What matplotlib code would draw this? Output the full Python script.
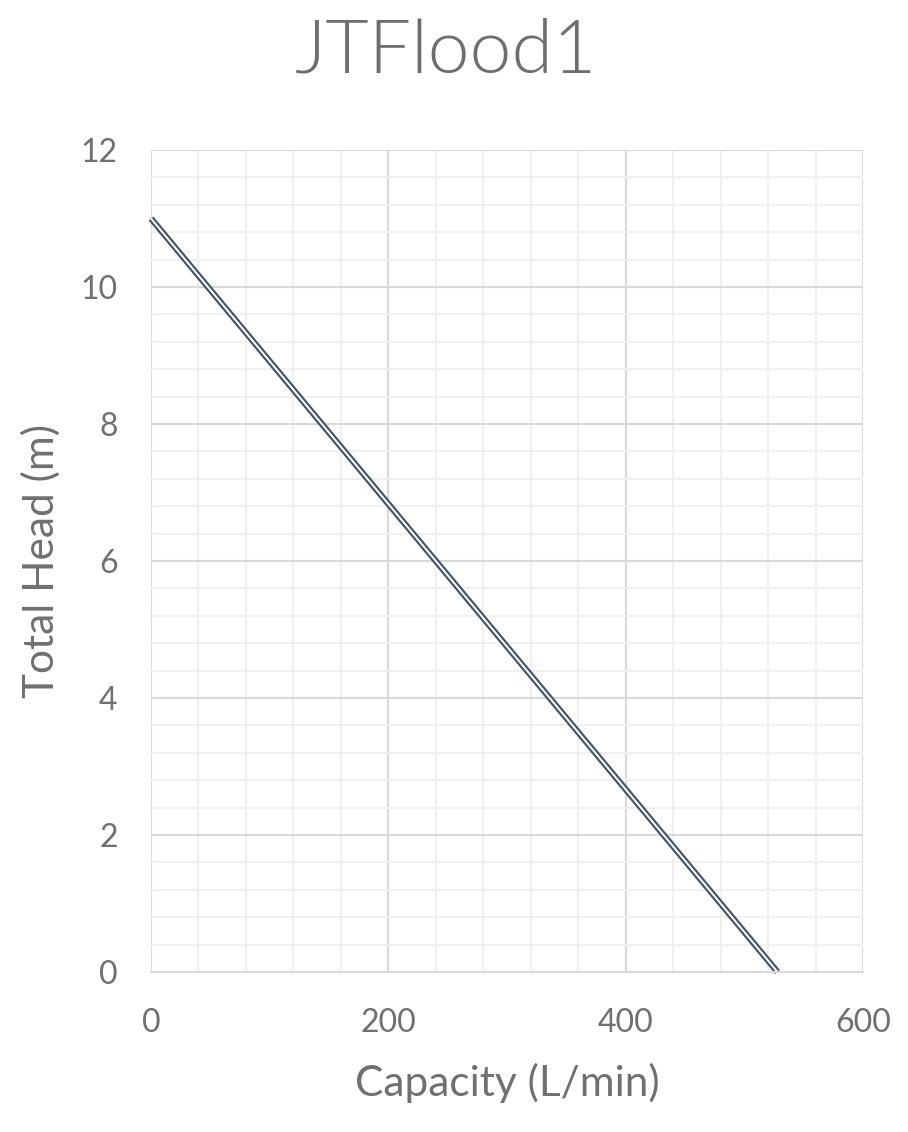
import matplotlib
matplotlib.use("Agg")
import matplotlib.pyplot as plt
from matplotlib.ticker import MultipleLocator

capacity = [0, 528]
head = [11, 0]

xticks = [0, 200, 400, 600]
yticks = [0, 2, 4, 6, 8, 10, 12]

plt.rcParams['font.family'] = ['Lato', 'DejaVu Sans']
fig = plt.figure(figsize=(9.08, 11.32), dpi=100)
ax = fig.add_axes([151/908, 1-972/1132, (863-151)/908, (972-150)/1132])

ax.set_xlim(0, 600)
ax.set_ylim(0, 12)
ax.xaxis.set_minor_locator(MultipleLocator(40))
ax.yaxis.set_minor_locator(MultipleLocator(0.4))
ax.set_xticks(xticks)
ax.set_yticks(yticks)
ax.grid(which='major', color='#d9d9d9', linewidth=1.5)
ax.grid(which='minor', color='#f0f0f0', linewidth=1.5)
ax.set_axisbelow(True)
for s in ['top', 'right', 'left']:
    ax.spines[s].set_visible(False)
ax.spines['bottom'].set_color('#d9d9d9')
ax.spines['bottom'].set_linewidth(1.5)
ax.tick_params(which='both', length=0, labelsize=23, colors='#707070')
ax.tick_params(axis='x', pad=26)
ax.tick_params(axis='y', pad=24)

ax.plot(capacity, head, color='#44546a', linewidth=4.5, solid_capstyle='butt', clip_on=False)
ax.plot(capacity, head, color='white', linewidth=1.4, solid_capstyle='butt', clip_on=False)

ax.set_xlabel('Capacity (L/min)', fontsize=30.5, color='#707070', labelpad=18)
ax.set_ylabel('Total Head (m)', fontsize=30.5, color='#707070', labelpad=14)
fig.text(446/908, 1-52/1132, 'JTFlood1', fontsize=54, color='#6e6e6e', ha='center', va='center', fontweight=300)

fig.savefig('out.png', dpi=100)
